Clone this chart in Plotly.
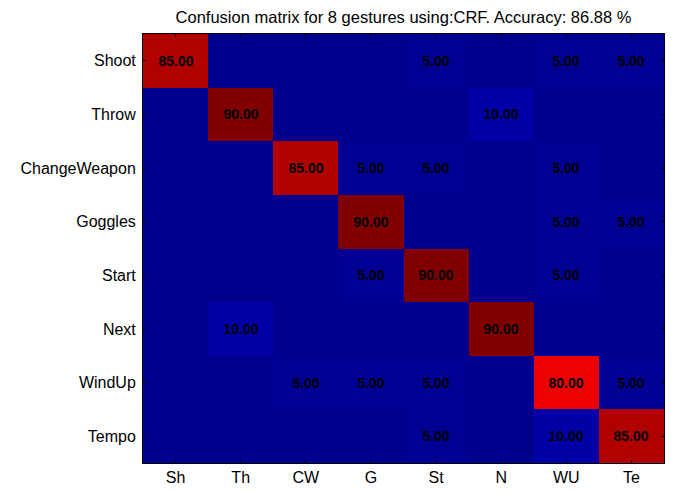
import plotly.graph_objects as go

gestures = ["Shoot", "Throw", "ChangeWeapon", "Goggles", "Start", "Next", "WindUp", "Tempo"]
short_names = ["Sh", "Th", "CW", "G", "St", "N", "WU", "Te"]

# rows = true gesture, columns = predicted gesture (percent)
shoot = [85, 0, 0, 0, 5, 0, 5, 5]
throw = [0, 90, 0, 0, 0, 10, 0, 0]
change_weapon = [0, 0, 85, 5, 5, 0, 5, 0]
goggles = [0, 0, 0, 90, 0, 0, 5, 5]
start = [0, 0, 0, 5, 90, 0, 5, 0]
next_g = [0, 10, 0, 0, 0, 90, 0, 0]
wind_up = [0, 0, 5, 5, 5, 0, 80, 5]
tempo = [0, 0, 0, 0, 5, 0, 10, 85]

matrix = [shoot, throw, change_weapon, goggles, start, next_g, wind_up, tempo]
labels = [["%.2f" % v if v else "" for v in row] for row in matrix]
accuracy = sum(matrix[i][i] for i in range(len(matrix))) / len(matrix)

# jet-like map as it came out of the original figure
cmap = [
    [0.0, "#00008f"],
    [5 / 90, "#000092"],
    [10 / 90, "#0000a6"],
    [0.35, "#0080ff"],
    [0.5, "#40ffbf"],
    [0.65, "#ffff00"],
    [0.8, "#ff6000"],
    [80 / 90, "#ee0000"],
    [85 / 90, "#b00000"],
    [1.0, "#800000"],
]

fig = go.Figure(go.Heatmap(
    z=matrix, x=short_names, y=gestures,
    text=labels, texttemplate="%{text}",
    textfont=dict(family="Arial", size=14, color="black", weight="bold"),
    colorscale=cmap, zmin=0, zmax=90, showscale=False, xgap=0, ygap=0,
))

fig.update_layout(
    width=683, height=498,
    margin=dict(l=143, r=19, t=34, b=25),
    paper_bgcolor="white", plot_bgcolor="white",
    font=dict(family="Arial", size=16, color="black"),
    title=dict(text="Confusion matrix for 8 gestures using:CRF. Accuracy: %.2f %%" % accuracy,
               xref="paper", x=0.5, xanchor="center",
               yref="container", y=0.966, yanchor="middle",
               font=dict(size=16.5, color="black")),
)
fig.update_xaxes(showline=True, linecolor="black", linewidth=1, mirror="ticks",
                 ticks="inside", ticklen=3, tickcolor="black", showgrid=False,
                 ticklabelstandoff=0)
fig.update_yaxes(autorange="reversed", showline=True, linecolor="black", linewidth=1,
                 mirror="ticks", ticks="inside", ticklen=3, tickcolor="black",
                 showgrid=False, ticklabelstandoff=3)

# pin the figure to the window corner so page margins/scrolling don't move it
pin = ("document.body.style.margin='0';"
       "document.documentElement.style.overflow='hidden';"
       "var d=document.getElementById('{plot_id}');"
       "d.style.position='fixed';d.style.left='0';d.style.top='0';")
fig.write_html("out.html", config={"displayModeBar": False}, post_script=pin)
